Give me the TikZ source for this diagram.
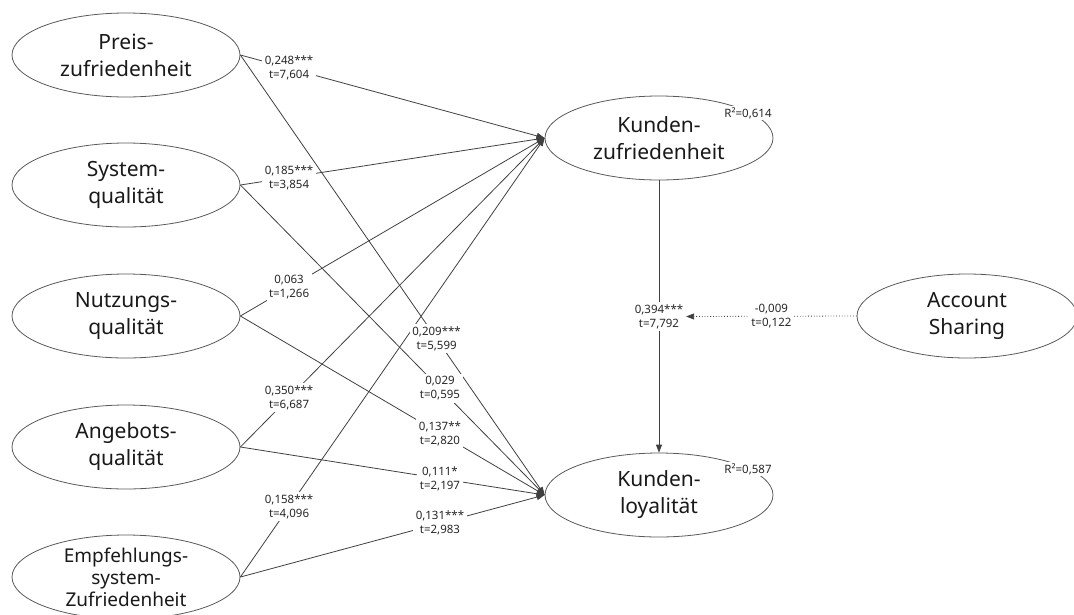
\documentclass[tikz,border=0pt]{standalone}
\usepackage{fontspec}
\setmainfont{Noto Sans}
\usetikzlibrary{shapes.geometric,arrows.meta,positioning}

\begin{document}
\begin{tikzpicture}[x=1pt, y=-1pt,
	construct/.style={draw=black!65, line width=0.8pt, ellipse, minimum width=228pt,
		minimum height=84pt, inner sep=0pt, align=center, text=black!90,
		font=\fontsize{21}{27}\selectfont},
	coef/.style={fill=white, align=center, inner sep=2.5pt, text=black!85,
		font=\fontsize{11.5}{14}\selectfont},
	rsq/.style={fill=white, inner sep=1pt, text=black!85, font=\fontsize{11.5}{14}\selectfont},
	effect/.style={draw=black!75, line width=0.8pt, -{Triangle[length=8pt,width=6pt]}}]
  \useasboundingbox (0,0) rectangle (1074,614);
  \clip (0,0) rectangle (1074,614);

  % constructs
  \node[construct] (preis) at (126,55) {Preis-\\zufriedenheit};
  \node[construct] (system) at (126,185) {System-\\qualität};
  \node[construct] (nutzung) at (126,316) {Nutzungs-\\qualität};
  \node[construct] (angebot) at (126,447) {Angebots-\\qualität};
  \node[construct, font=\fontsize{19}{22}\selectfont] (empf) at (126,577) {Empfehlungs-\\system-\\Zufriedenheit};
  \node[construct] (kz) at (659,138) {Kunden-\\zufriedenheit};
  \node[construct] (kl) at (659,495) {Kunden-\\loyalität};
  \node[construct, minimum width=220pt] (acc) at (967,316) {Account\\Sharing};

  \node[rsq] at (748,113) {R²=0,614};
  \node[rsq] at (748,469) {R²=0,587};

  % paths to Kundenzufriedenheit
  \draw[effect] (preis.east) -- node[coef, pos=0.16] {0,248***\\t=7,604} (kz.west);
  \draw[effect] (system.east) -- node[coef, pos=0.16] {0,185***\\t=3,854} (kz.west);
  \draw[effect] (nutzung.east) -- node[coef, pos=0.16] {0,063\\t=1,266} (kz.west);
  \draw[effect] (angebot.east) -- node[coef, pos=0.16] {0,350***\\t=6,687} (kz.west);
  \draw[effect] (empf.east) -- node[coef, pos=0.16] {0,158***\\t=4,096} (kz.west);

  % paths to Kundenloyalitaet
  \draw[effect] (preis.east) -- node[coef, pos=0.645] {0,209***\\t=5,599} (kl.west);
  \draw[effect] (system.east) -- node[coef, pos=0.656] {0,029\\t=0,595} (kl.west);
  \draw[effect] (nutzung.east) -- node[coef, pos=0.656] {0,137**\\t=2,820} (kl.west);
  \draw[effect] (angebot.east) -- node[coef, pos=0.656] {0,111*\\t=2,197} (kl.west);
  \draw[effect] (empf.east) -- node[coef, pos=0.656] {0,131***\\t=2,983} (kl.west);

  % Kundenzufriedenheit -> Kundenloyalitaet, moderated
  \draw[effect] (kz.south) -- node[coef, pos=0.5] (mod) {0,394***\\t=7,792} (kl.north);
  \draw[effect, dotted] (acc.west) -- node[coef, pos=0.5] {-0,009\\t=0,122} (mod.east);
\end{tikzpicture}
\end{document}
